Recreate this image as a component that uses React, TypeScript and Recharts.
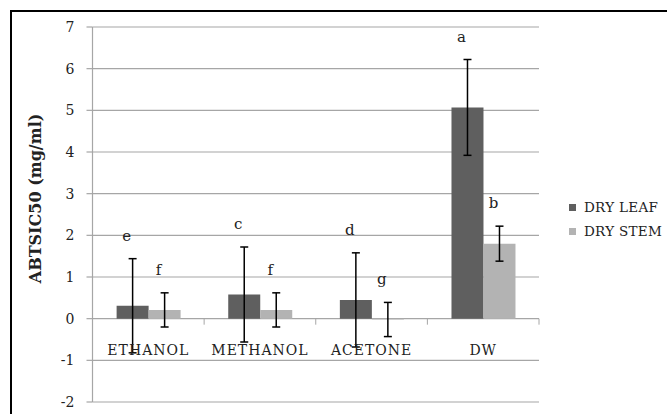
import React from 'react';
import { BarChart, Bar, XAxis, YAxis, CartesianGrid, ErrorBar, LabelList } from 'recharts';

// solvent extracts on the x axis
const solvents = ['ETHANOL', 'METHANOL', 'ACETONE', 'DW'];

// ABTS IC50 means (mg/ml) and their error bars
const dryLeaf = [0.31, 0.58, 0.45, 5.07];
const dryLeafErr = [1.13, 1.14, 1.13, 1.15];
const dryStem = [0.21, 0.21, -0.02, 1.8];
const dryStemErr = [0.41, 0.41, 0.41, 0.42];

// significance letters above each bar
const leafLetters = ['e', 'c', 'd', 'a'];
const stemLetters = ['f', 'f', 'g', 'b'];

const yTicks = [-2, -1, 0, 1, 2, 3, 4, 5, 6, 7];

const FONT = '"DejaVu Serif", "Liberation Serif", serif';
const LEAF = '#5f5f5f';
const STEM = '#b3b3b3';
const GRID = '#a6a6a6';

const W = 667;
const H = 414;
const M = { top: 27, right: 128, bottom: 0, left: 0 };
const Y_AXIS_W = 92.5;
const X_AXIS_H = 12;
const PLOT_H = H - M.top - M.bottom - X_AXIS_H;
const BAND = (W - M.right - Y_AXIS_W) / solvents.length;
// distance from the plot bottom (-2) up to the zero line
const ZERO_UP = (PLOT_H * 2) / 9;

const data = solvents.map((name, i) => ({
  name,
  leaf: dryLeaf[i],
  leafErr: dryLeafErr[i],
  stem: dryStem[i],
  stemErr: dryStemErr[i],
  leafTop: dryLeaf[i] + dryLeafErr[i],
  stemTop: dryStem[i] + dryStemErr[i],
  leafLetter: leafLetters[i],
  stemLetter: stemLetters[i],
}));

function CategoryTick(props: any) {
  const { x, y, payload, index } = props;
  const zy = y - ZERO_UP;
  return (
    <g>
      <line x1={x + BAND / 2} x2={x + BAND / 2} y1={zy} y2={zy + 6} stroke={GRID} />
      {index === 0 && <line x1={x - BAND / 2} x2={x - BAND / 2} y1={zy} y2={zy + 6} stroke={GRID} />}
      <text x={x} y={zy + 36} textAnchor="middle" fontFamily={FONT} fontSize={14} letterSpacing={1} fill="#222">
        {payload.value}
      </text>
    </g>
  );
}

function LetterLabel(props: any) {
  const { x, y, width, value } = props;
  return (
    <text x={x + width / 2 - 6} y={y - 18} textAnchor="middle" fontFamily={FONT} fontSize={15} fill="#222">
      {value}
    </text>
  );
}

function YTitle() {
  const cx = 35;
  const cy = M.top + PLOT_H / 2 - 16;
  return (
    <text
      x={cx}
      y={cy}
      transform={`rotate(-90 ${cx} ${cy})`}
      textAnchor="middle"
      dominantBaseline="central"
      fontFamily={FONT}
      fontSize={16}
      fontWeight="bold"
      fill="#222"
    >
      ABTSIC50 (mg/ml)
    </text>
  );
}

const legendItems = [
  { label: 'DRY LEAF', color: LEAF },
  { label: 'DRY STEM', color: STEM },
];

export default function App() {
  return (
    <div style={{ position: 'absolute', left: 0, top: 0, width: W, height: H, overflow: 'hidden', background: '#fff' }}>
      <div
        style={{
          position: 'absolute',
          left: 10,
          top: 10,
          width: 720,
          height: 440,
          border: '2px solid #000',
          boxSizing: 'border-box',
        }}
      />
      <div style={{ position: 'absolute', left: 0, top: 0 }}>
        <BarChart width={W} height={H} data={data} margin={M} barCategoryGap="21.6%" barGap={0}>
          <CartesianGrid horizontal vertical={false} stroke={GRID} strokeWidth={1.2} />
          <XAxis
            dataKey="name"
            height={X_AXIS_H}
            axisLine={false}
            tickLine={false}
            tickSize={0}
            tickMargin={0}
            tick={<CategoryTick />}
            interval={0}
          />
          <XAxis xAxisId="lbl" dataKey="name" hide />
          <YAxis
            width={Y_AXIS_W}
            domain={[-2, 7]}
            ticks={yTicks}
            interval={0}
            allowDataOverflow
            axisLine={{ stroke: GRID, strokeWidth: 1.2 }}
            tickLine={{ stroke: GRID, strokeWidth: 1.2 }}
            tickSize={6}
            tickMargin={12}
            tick={{ fontFamily: FONT, fontSize: 14, fill: '#222' }}
            label={<YTitle />}
          />
          <Bar dataKey="leaf" name="DRY LEAF" fill={LEAF} isAnimationActive={false}>
            <ErrorBar dataKey="leafErr" width={4} stroke="#000" strokeWidth={1.5} />
          </Bar>
          <Bar dataKey="stem" name="DRY STEM" fill={STEM} isAnimationActive={false}>
            <ErrorBar dataKey="stemErr" width={4} stroke="#000" strokeWidth={1.5} />
          </Bar>
          <Bar xAxisId="lbl" dataKey="leafTop" fill="none" legendType="none" isAnimationActive={false}>
            <LabelList dataKey="leafLetter" content={<LetterLabel />} />
          </Bar>
          <Bar xAxisId="lbl" dataKey="stemTop" fill="none" legendType="none" isAnimationActive={false}>
            <LabelList dataKey="stemLetter" content={<LetterLabel />} />
          </Bar>
        </BarChart>
      </div>
      <div style={{ position: 'absolute', left: 569, top: 195, fontFamily: FONT, fontSize: 13.5, color: '#222', letterSpacing: 0.3 }}>
        {legendItems.map((it) => (
          <div key={it.label} style={{ display: 'flex', alignItems: 'center', height: 24, whiteSpace: 'nowrap' }}>
            <span style={{ width: 7, height: 7, background: it.color, marginRight: 8 }} />
            {it.label}
          </div>
        ))}
      </div>
    </div>
  );
}
